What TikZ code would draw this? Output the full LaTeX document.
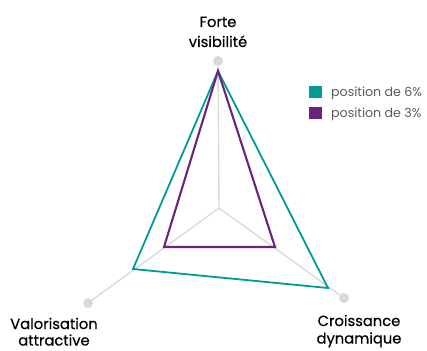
\documentclass[tikz,border=0pt]{standalone}
\usepackage{fontspec}
\setmainfont{Poppins}
\newfontfamily\labfont{Poppins}[FakeBold=0.5]
\definecolor{tealc}{HTML}{009B95}
\definecolor{purplec}{HTML}{6B2380}
\definecolor{axisc}{HTML}{DADADA}
\definecolor{legtext}{HTML}{5A5A5A}
\begin{document}
\begin{tikzpicture}[x=1pt,y=-1pt,
  axisline/.style={draw=axisc,line width=1.4pt},
  enddot/.style={circle,fill=axisc,inner sep=0pt,minimum size=10pt},
  axlabel/.style={font=\labfont\fontsize{14.7}{19}\selectfont,align=center,text=black,inner sep=0pt,anchor=base},
  legbox/.style={inner sep=0pt,minimum width=13pt,minimum height=12pt},
  legtxt/.style={font=\fontsize{12.6}{14}\selectfont,text=legtext,inner sep=0pt,anchor=base west},
  series/.style={line width=1.8pt,line join=miter}]
\useasboundingbox (0,0) rectangle (427,350);
\coordinate (C) at (219,208);
\coordinate (T) at (218,61);
\coordinate (L) at (88,303);
\coordinate (R) at (344,298);
\draw[axisline] (C) -- (T);
\draw[axisline] (C) -- (L);
\draw[axisline] (C) -- (R);
\node[enddot] (dT) at (T) {};
\node[enddot] (dL) at (L) {};
\node[enddot] (dR) at (R) {};
% series
\coordinate (aT) at (218,71);
\coordinate (tL) at (133,269);
\coordinate (tR) at (328,288);
\coordinate (pL) at (164,247);
\coordinate (pR) at (275,247);
\draw[series,draw=tealc] (aT) -- (tL) -- (tR) -- cycle;
\draw[series,draw=purplec,line width=2.1pt] (aT) -- (pL) -- (pR) -- cycle;
% labels
\node[axlabel] (lt1) at (218,27) {Forte};
\node[axlabel] (lt2) at (218,47) {visibilité};
\node[axlabel] (ll1) at (54,329) {Valorisation};
\node[axlabel] (ll2) at (54,345.5) {attractive};
\node[axlabel] (lr1) at (359,326) {Croissance};
\node[axlabel] (lr2) at (359,343.5) {dynamique};
% legend
\node[legbox,fill=tealc] (k1) at (315,91.5) {};
\node[legbox,fill=purplec] (k2) at (315,113) {};
\node[legtxt] (t1) at (331,96) {position de 6\%};
\node[legtxt] (t2) at (331,117.5) {position de 3\%};
\end{tikzpicture}
\end{document}
